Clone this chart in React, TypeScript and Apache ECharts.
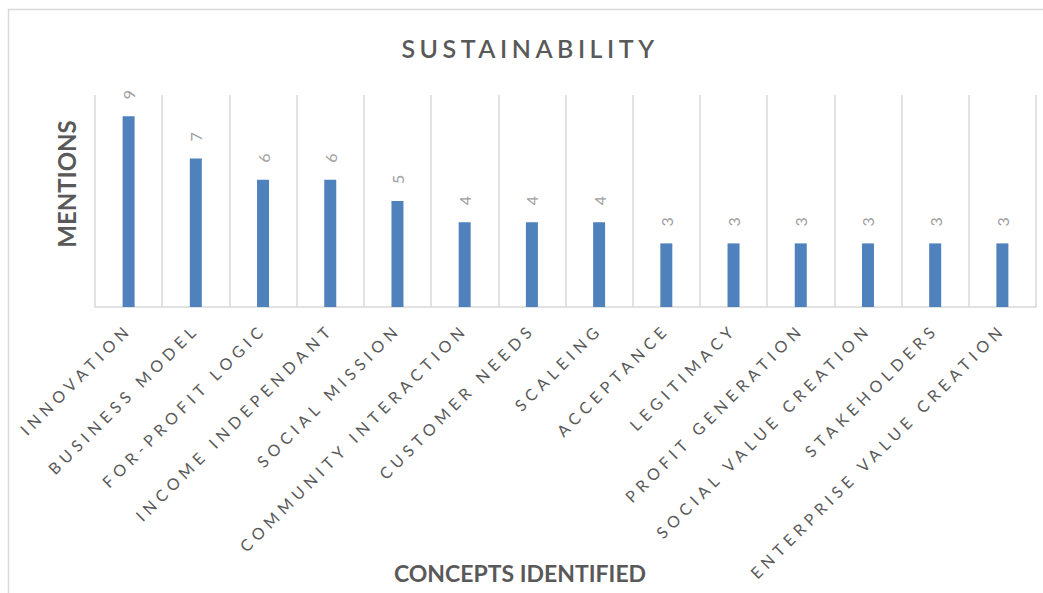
import React, { useEffect, useRef } from "react";
import * as echarts from "echarts";

const categories = [
  "INNOVATION",
  "BUSINESS MODEL",
  "FOR-PROFIT LOGIC",
  "INCOME INDEPENDANT",
  "SOCIAL MISSION",
  "COMMUNITY INTERACTION",
  "CUSTOMER NEEDS",
  "SCALEING",
  "ACCEPTANCE",
  "LEGITIMACY",
  "PROFIT GENERATION",
  "SOCIAL VALUE CREATION",
  "STAKEHOLDERS",
  "ENTERPRISE VALUE CREATION",
];
const mentions = [9, 7, 6, 6, 5, 4, 4, 4, 3, 3, 3, 3, 3, 3];
const chartTitle = "SUSTAINABILITY";
const yAxisTitle = "MENTIONS";
const xAxisTitle = "CONCEPTS IDENTIFIED";

const FONT = "Lato, 'Open Sans', sans-serif";

export default function App() {
  const ref = useRef<HTMLDivElement>(null);
  useEffect(() => {
    if (!ref.current) return;
    const chart = echarts.init(ref.current, null, { renderer: "svg" });
    chart.setOption({
      animation: false,
      backgroundColor: "#ffffff",
      textStyle: { fontFamily: FONT },
      grid: { left: 95, right: 7, top: 95, bottom: 286, containLabel: false },
      graphic: [
        {
          type: "rect",
          silent: true,
          shape: { x: 8.5, y: 9.5, width: 1060, height: 620 },
          style: { fill: "none", stroke: "#d9d9d9", lineWidth: 1.5 },
        },
        {
          type: "text",
          x: 530,
          y: 48,
          style: {
            text: chartTitle,
            fontFamily: FONT,
            fontSize: 25,
            fontWeight: 600,
            fill: "#595959",
            textAlign: "center",
            textVerticalAlign: "middle",
          },
        },
        {
          type: "text",
          x: 66,
          y: 184,
          rotation: Math.PI / 2,
          style: {
            text: yAxisTitle,
            fontFamily: FONT,
            fontSize: 24,
            fontWeight: "bold",
            fill: "#595959",
            textAlign: "center",
            textVerticalAlign: "middle",
          },
        },
        {
          type: "text",
          x: 520,
          y: 573,
          style: {
            text: xAxisTitle,
            fontFamily: FONT,
            fontSize: 23,
            fontWeight: "bold",
            fill: "#595959",
            textAlign: "center",
            textVerticalAlign: "middle",
          },
        },
      ],
      xAxis: {
        type: "category",
        data: categories,
        axisLine: { lineStyle: { color: "#d9d9d9", width: 1.5 } },
        axisTick: { show: false },
        splitLine: { show: true, lineStyle: { color: "#d9d9d9", width: 1.5 } },
        axisLabel: {
          interval: 0,
          rotate: 45,
          margin: 19,
          fontFamily: FONT,
          fontSize: 16,
          color: "#595959",
        },
      },
      yAxis: {
        type: "value",
        min: 0,
        max: 10,
        axisLabel: { show: false },
        axisLine: { show: false },
        axisTick: { show: false },
        splitLine: { show: false },
      },
      series: [
        {
          type: "bar",
          data: mentions,
          barWidth: 12,
          itemStyle: { color: "#4f81bd" },
          label: {
            show: true,
            position: "top",
            rotate: 90,
            align: "left",
            verticalAlign: "middle",
            distance: 17,
            fontFamily: FONT,
            fontSize: 16,
            color: "#a0a0a0",
          },
        },
      ],
    });
    const svgTexts = ref.current.querySelectorAll("text");
    const catSet = new Set(categories);
    svgTexts.forEach((t) => {
      const c = t.textContent || "";
      if (catSet.has(c)) t.style.letterSpacing = "5px";
      else if (c === chartTitle) t.style.letterSpacing = "4.5px";
    });
    return () => chart.dispose();
  }, []);
  return (
    <div
      ref={ref}
      style={{ position: "fixed", left: 0, top: 0, width: 1043, height: 593 }}
    />
  );
}
